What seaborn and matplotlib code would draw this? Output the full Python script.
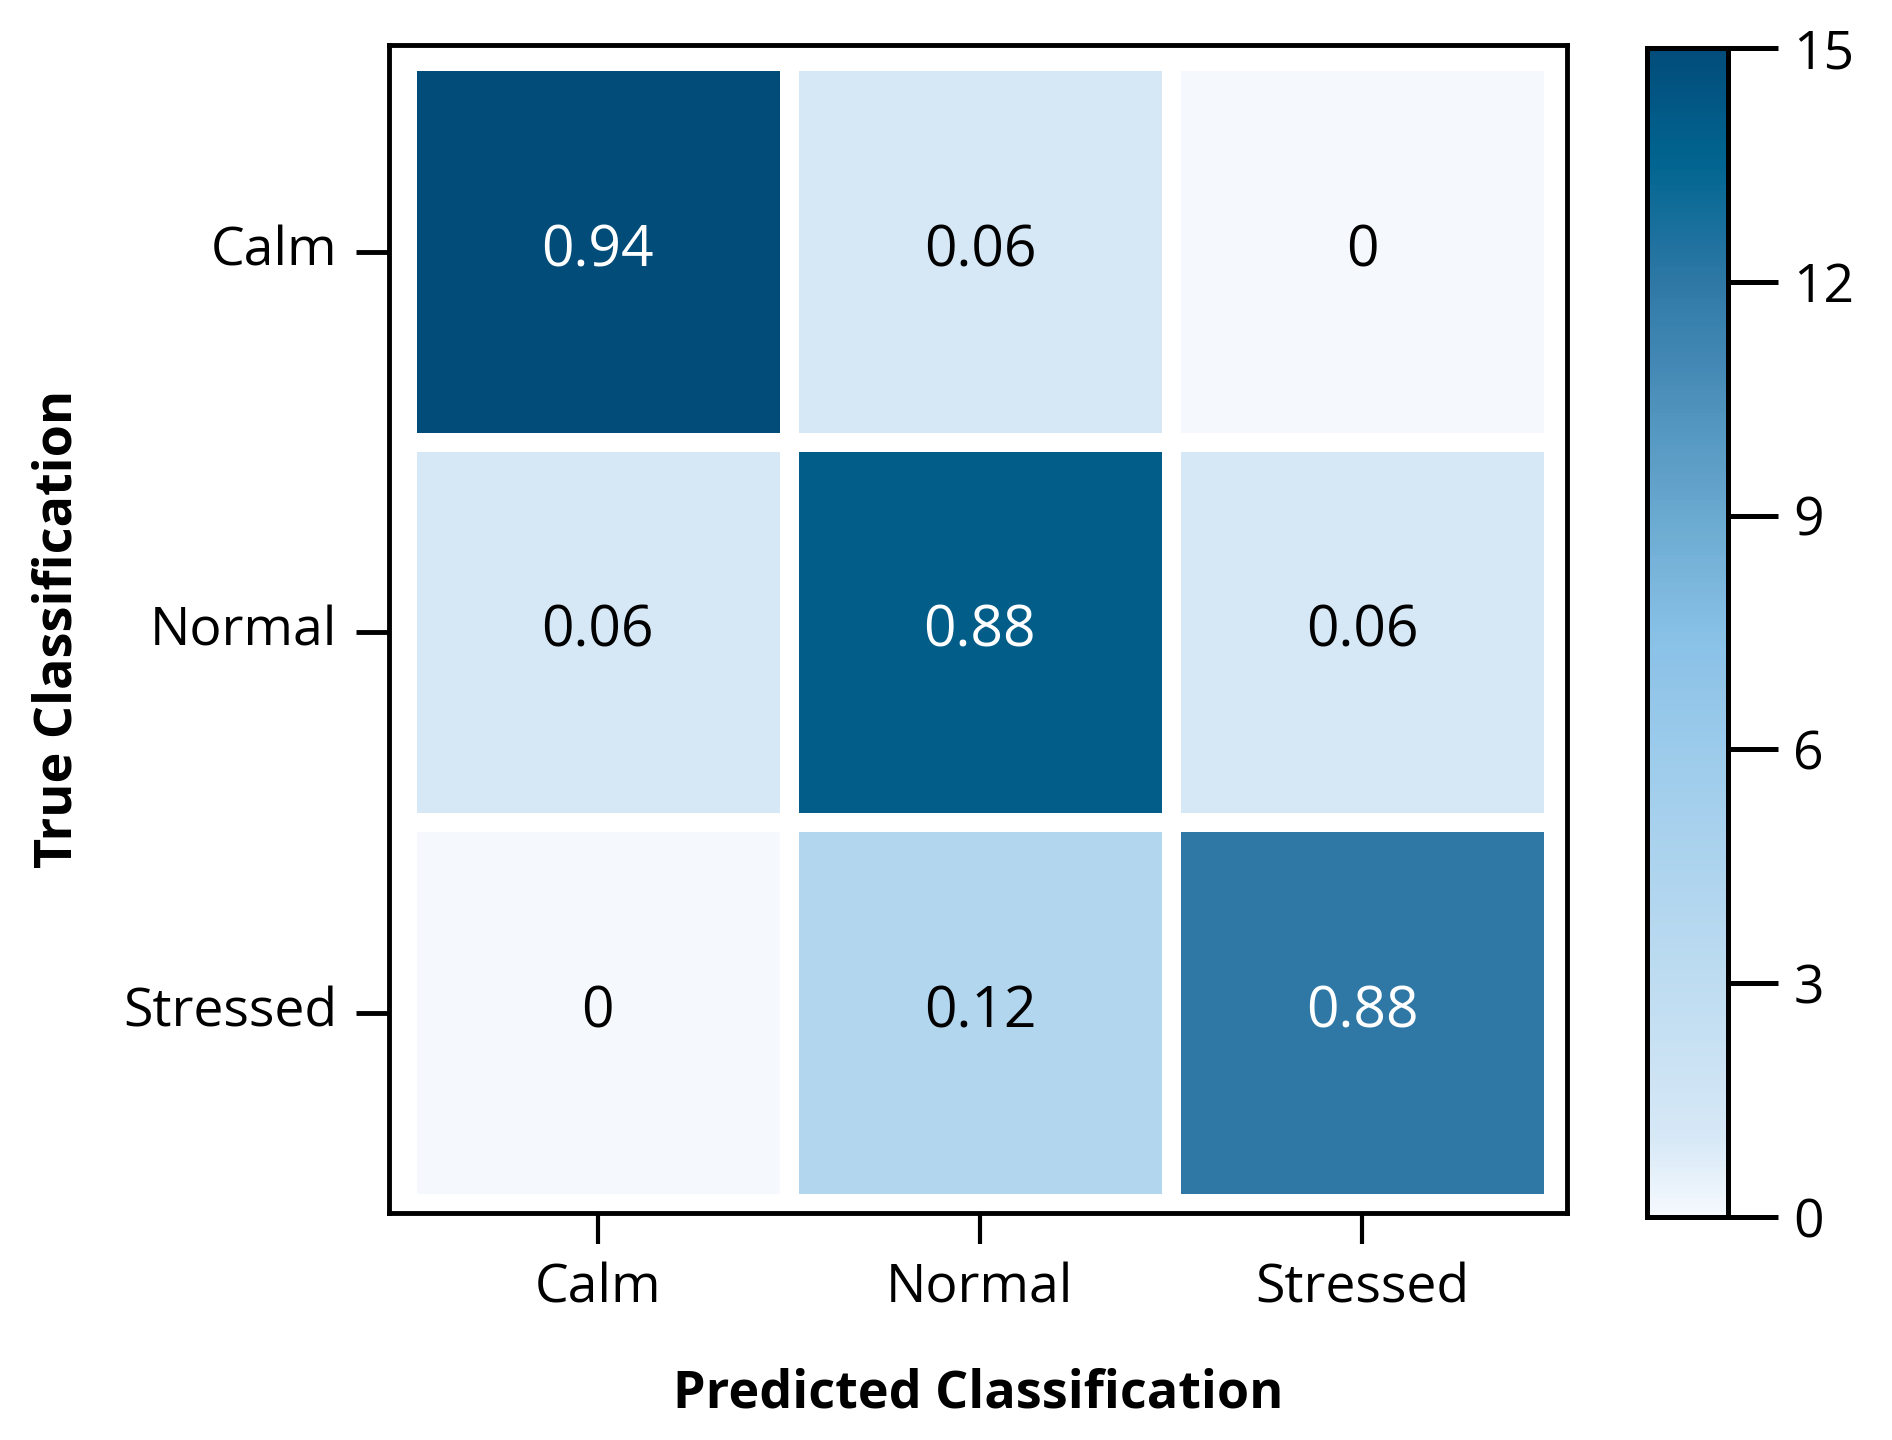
import numpy as np
import matplotlib
matplotlib.use("Agg")
import matplotlib.pyplot as plt
from matplotlib.colors import LinearSegmentedColormap
import seaborn as sns

# kelas dan nilai confusion matrix (proporsi per baris)
class_labels = ['Calm', 'Normal', 'Stressed']
row_calm = [0.94, 0.06, 0.0]
row_normal = [0.06, 0.88, 0.06]
row_stressed = [0.0, 0.12, 0.88]

# intensitas warna tiap sel (dibaca dari colorbar 0-15)
shade_calm = [15, 1, 0]
shade_normal = [1, 14, 1]
shade_stressed = [0, 4, 12]

cbar_ticks = [0, 3, 6, 9, 12, 15]

props = np.array([row_calm, row_normal, row_stressed])
shades = np.array([shade_calm, shade_normal, shade_stressed])
annot = np.array([[f"{v:g}" for v in row] for row in props])

sns.set_style('white')
plt.rcParams['font.family'] = ['Open Sans', 'DejaVu Sans']
plt.rcParams['text.color'] = 'black'
plt.rcParams['axes.labelcolor'] = 'black'
plt.rcParams['xtick.color'] = 'black'
plt.rcParams['ytick.color'] = 'black'

cmap = LinearSegmentedColormap.from_list('cm_blue', [
    (0.0, '#f5f9fd'), (1 / 15, '#d6e8f6'), (0.2, '#bedcf1'),
    (0.4, '#9ccbeb'), (0.5, '#88c0e6'), (0.6, '#6aa9d0'),
    (0.8, '#2f78a6'), (0.9, '#026691'), (1.0, '#024c7a')])

fig = plt.figure(figsize=(18.92, 14.4), dpi=100)
ax = fig.add_axes([0.2056, 0.1576, 0.6226, 0.8111])
cax = fig.add_axes([0.8705, 0.1549, 0.0428, 0.8118])

sns.heatmap(shades, annot=annot, fmt='', cmap=cmap, vmin=0, vmax=15,
            linewidths=12.5, linecolor='white',
            xticklabels=class_labels, yticklabels=class_labels,
            annot_kws={'fontsize': 41}, ax=ax, cbar_ax=cax,
            cbar_kws={'ticks': cbar_ticks})

# teks di sel terang jadi hitam
for t in ax.texts:
    if t.get_color() != 'w':
        t.set_color('black')

ax.set_xlim(-0.046, 3.036)
ax.set_ylim(3.027, -0.043)
for sp in ax.spines.values():
    sp.set_visible(True)
    sp.set_linewidth(3.5)
    sp.set_color('black')

ax.tick_params(axis='y', left=True, length=24, width=3.5, pad=13,
               labelsize=38.5, rotation=0)
ax.tick_params(axis='x', bottom=True, length=22, width=3.0, pad=13,
               labelsize=38.5, rotation=0)

ax.set_xlabel('Predicted Classification', fontsize=37.5, fontweight='bold',
              labelpad=38)
ax.set_ylabel('True Classification', fontsize=37.5, fontweight='bold',
              labelpad=28)

cb = ax.collections[0].colorbar
cb.outline.set_visible(True)
cb.outline.set_linewidth(3.6)
cb.outline.set_edgecolor('black')
cax.tick_params(axis='y', right=True, length=36, width=3.6, pad=11,
                labelsize=38.5)

plt.savefig('out.png', dpi=100)
